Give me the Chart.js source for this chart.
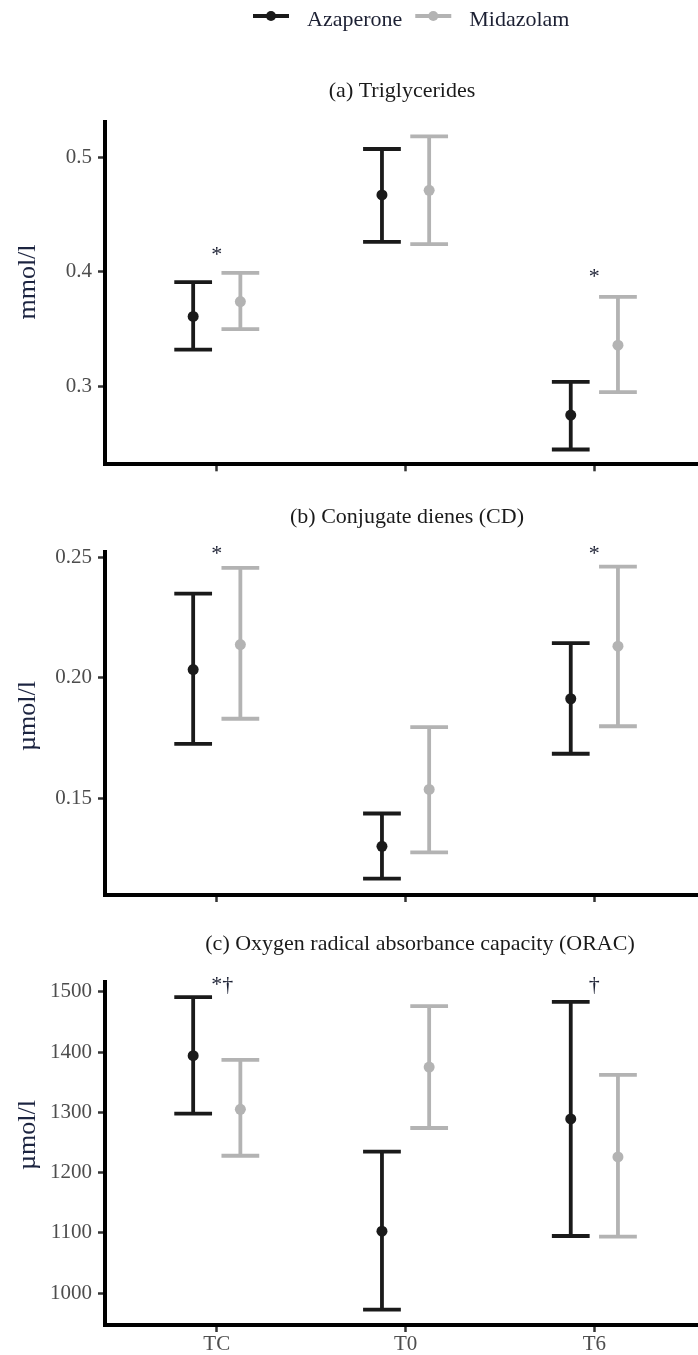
<!DOCTYPE html>
<html>
<head>
<meta charset="utf-8">
<script src="https://cdn.jsdelivr.net/npm/chart.js@4.4.1/dist/chart.umd.min.js"></script>
<style>
  html, body { margin: 0; padding: 0; background: #fff; overflow: hidden; }
  #wrap { position: relative; width: 698px; height: 1355px; }
  canvas { position: absolute; left: 0; }
</style>
</head>
<body>
<div id="wrap">
  <canvas id="chartA" width="698" height="500" style="top:0px"></canvas>
  <canvas id="chartB" width="698" height="420" style="top:500px"></canvas>
  <canvas id="chartC" width="698" height="435" style="top:920px"></canvas>
</div>
<script>
const FONT = "'Liberation Serif', 'Times New Roman', serif";
Chart.defaults.font.family = FONT;

const categories = ['TC', 'T0', 'T6'];
const groupNames = ['Azaperone', 'Midazolam'];
const groupColors = ['#1a1a1a', '#b3b3b3'];

// (a) Triglycerides, mmol/l
const tgAzaMean = [0.361, 0.467, 0.275];
const tgAzaLow  = [0.332, 0.426, 0.245];
const tgAzaHigh = [0.391, 0.507, 0.304];
const tgMidMean = [0.374, 0.471, 0.336];
const tgMidLow  = [0.350, 0.424, 0.295];
const tgMidHigh = [0.399, 0.518, 0.378];
const tgTicks = [0.3, 0.4, 0.5];
const tgTickLabels = ['0.3', '0.4', '0.5'];
const tgMarks = [['TC', 0.418, '*'], ['T6', 0.399, '*']];

// (b) Conjugate dienes, µmol/l
const cdAzaMean = [0.2034, 0.1301, 0.1913];
const cdAzaLow  = [0.1726, 0.1167, 0.1685];
const cdAzaHigh = [0.2349, 0.1437, 0.2144];
const cdMidMean = [0.2138, 0.1537, 0.2131];
const cdMidLow  = [0.1830, 0.1276, 0.1799];
const cdMidHigh = [0.2456, 0.1795, 0.2461];
const cdTicks = [0.15, 0.20, 0.25];
const cdTickLabels = ['0.15', '0.20', '0.25'];
const cdMarks = [['TC', 0.2532, '*'], ['T6', 0.2532, '*']];

// (c) ORAC, µmol/l
const oracAzaMean = [1394, 1103, 1289];
const oracAzaLow  = [1298, 973, 1095];
const oracAzaHigh = [1491, 1235, 1483];
const oracMidMean = [1305, 1375, 1226];
const oracMidLow  = [1228, 1274, 1094];
const oracMidHigh = [1387, 1476, 1362];
const oracTicks = [1000, 1100, 1200, 1300, 1400, 1500];
const oracTickLabels = ['1000', '1100', '1200', '1300', '1400', '1500'];
const oracMarks = [['TC', 1519, '*†'], ['T6', 1519, '†']];

const dodge = [-0.125, 0.125];
const capWidth = 0.2;

// error bars, titles, significance marks, legend
const decorPlugin = {
  id: 'decor',
  beforeDatasetsDraw(chart) {
    const ctx = chart.ctx, xs = chart.scales.x, ys = chart.scales.y;
    chart.data.datasets.forEach(ds => {
      ds.data.forEach((p, i) => {
        const px = xs.getPixelForValue(p.x);
        const half = xs.getPixelForValue(p.x + capWidth / 2) - px;
        const yl = ys.getPixelForValue(ds.errLow[i]);
        const yh = ys.getPixelForValue(ds.errHigh[i]);
        ctx.save();
        ctx.strokeStyle = ds.borderColor;
        ctx.lineWidth = 3.8;
        ctx.lineCap = 'butt';
        ctx.beginPath();
        ctx.moveTo(px, yl); ctx.lineTo(px, yh);
        ctx.moveTo(px - half, yl); ctx.lineTo(px + half, yl);
        ctx.moveTo(px - half, yh); ctx.lineTo(px + half, yh);
        ctx.stroke();
        ctx.restore();
      });
    });
  },
  afterDraw(chart, args, o) {
    const ctx = chart.ctx, xs = chart.scales.x, ys = chart.scales.y;
    ctx.save();
    ctx.textBaseline = 'alphabetic';

    ctx.font = '22px ' + FONT;
    ctx.fillStyle = '#1a1a1a';
    ctx.textAlign = 'center';
    ctx.fillText(o.title, o.titleX, o.titleBaseline);

    ctx.save();
    ctx.translate(35, o.yTitleY);
    ctx.rotate(-Math.PI / 2);
    ctx.font = '26px ' + FONT;
    ctx.fillStyle = '#1c2440';
    ctx.textAlign = 'center';
    ctx.fillText(o.yTitle, 0, 0);
    ctx.restore();

    ctx.font = '22px ' + FONT;
    ctx.fillStyle = '#1c2033';
    ctx.textAlign = 'left';
    o.marks.forEach(([cat, val, text]) => {
      const cx = xs.getPixelForValue(categories.indexOf(cat) + 1);
      const cy = ys.getPixelForValue(val) + 0.466 * 22;
      const w0 = ctx.measureText(text[0]).width;
      ctx.fillText(text, cx - w0 / 2, cy);
    });

    if (o.legend) {
      let lx = 253;
      const ly = 16;
      chart.data.datasets.forEach(ds => {
        ctx.strokeStyle = ds.borderColor;
        ctx.fillStyle = ds.borderColor;
        ctx.lineWidth = 4;
        ctx.beginPath();
        ctx.moveTo(lx, ly); ctx.lineTo(lx + 36, ly);
        ctx.stroke();
        ctx.beginPath();
        ctx.arc(lx + 18, ly, 5, 0, Math.PI * 2);
        ctx.fill();
        ctx.fillStyle = '#1c2033';
        ctx.font = '22px ' + FONT;
        ctx.fillText(ds.label, lx + 54, 26);
        lx += 54 + ctx.measureText(ds.label).width + 13;
      });
    }
    ctx.restore();
  }
};

function buildPanel(id, spec) {
  const datasets = groupNames.map((name, g) => ({
    label: name,
    data: categories.map((c, i) => ({ x: i + 1 + dodge[g], y: spec.means[g][i] })),
    errLow: spec.lows[g],
    errHigh: spec.highs[g],
    backgroundColor: groupColors[g],
    borderColor: groupColors[g],
    pointRadius: 5.5,
    pointHoverRadius: 5.5,
    borderWidth: 0,
    showLine: false
  }));

  const gridOpts = { drawOnChartArea: false, drawTicks: true, tickLength: 7, tickColor: '#333333', tickWidth: 2.5 };
  const borderOpts = { display: true, color: '#000000', width: 4 };

  new Chart(document.getElementById(id).getContext('2d'), {
    type: 'scatter',
    data: { datasets },
    options: {
      responsive: false,
      animation: false,
      events: [],
      layout: { autoPadding: false, padding: { top: spec.padTop, left: 0, right: 0, bottom: 0 } },
      plugins: {
        legend: { display: false },
        tooltip: { enabled: false },
        decor: {
          title: spec.title, titleX: spec.titleX, titleBaseline: spec.titleBaseline,
          yTitle: spec.yTitle, yTitleY: spec.yTitleY,
          marks: spec.marks, legend: spec.legend
        }
      },
      scales: {
        x: {
          type: 'linear',
          min: 0.408,
          max: 3.549,
          afterBuildTicks: s => { s.ticks = categories.map((c, i) => ({ value: i + 1 })); },
          afterFit: s => { s.height = spec.xAxisHeight; },
          ticks: {
            display: spec.showXLabels,
            callback: (v, i) => categories[i],
            color: '#4d4d4d',
            font: { size: 21 },
            padding: 0,
            maxRotation: 0
          },
          grid: gridOpts,
          border: borderOpts
        },
        y: {
          min: spec.yMin,
          max: spec.yMax,
          afterBuildTicks: s => { s.ticks = spec.ticks.map(v => ({ value: v })); },
          afterFit: s => { s.width = 105; },
          ticks: {
            callback: (v, i) => spec.tickLabels[i],
            color: '#4d4d4d',
            font: { size: 21 },
            padding: 6
          },
          grid: gridOpts,
          border: borderOpts
        }
      }
    },
    plugins: [decorPlugin]
  });
}

buildPanel('chartA', {
  means: [tgAzaMean, tgMidMean], lows: [tgAzaLow, tgMidLow], highs: [tgAzaHigh, tgMidHigh],
  yMin: 0.2321, yMax: 0.5308, ticks: tgTicks, tickLabels: tgTickLabels, marks: tgMarks,
  title: '(a) Triglycerides', titleX: 402, titleBaseline: 97,
  yTitle: 'mmol/l', yTitleY: 282,
  padTop: 121.7, xAxisHeight: 35.7, showXLabels: false, legend: true
});

buildPanel('chartB', {
  means: [cdAzaMean, cdMidMean], lows: [cdAzaLow, cdMidLow], highs: [cdAzaHigh, cdMidHigh],
  yMin: 0.1099, yMax: 0.2523, ticks: cdTicks, tickLabels: cdTickLabels, marks: cdMarks,
  title: '(b) Conjugate dienes (CD)', titleX: 407, titleBaseline: 23.4,
  yTitle: 'µmol/l', yTitleY: 216,
  padTop: 51.7, xAxisHeight: 25, showXLabels: false, legend: false
});

buildPanel('chartC', {
  means: [oracAzaMean, oracMidMean], lows: [oracAzaLow, oracMidLow], highs: [oracAzaHigh, oracMidHigh],
  yMin: 947.4, yMax: 1516.6, ticks: oracTicks, tickLabels: oracTickLabels, marks: oracMarks,
  title: '(c) Oxygen radical absorbance capacity (ORAC)', titleX: 420, titleBaseline: 30,
  yTitle: 'µmol/l', yTitleY: 215,
  padTop: 61.7, xAxisHeight: 30, showXLabels: true, legend: false
});
</script>
</body>
</html>
